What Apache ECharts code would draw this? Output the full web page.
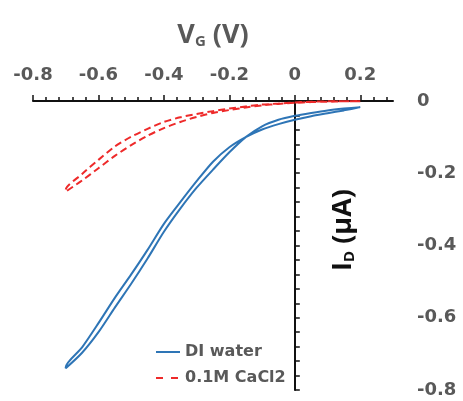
<!DOCTYPE html>
<html><head><meta charset="utf-8">
<script src="https://cdn.jsdelivr.net/npm/echarts@6/dist/echarts.min.js"></script>
<style>html,body{margin:0;padding:0;background:#fff}#c{width:463px;height:401px}</style>
</head><body><div id="c"></div>
<script>
// Gate voltage sweep points (V)
const sweepV = [0.2, 0.15, 0.1, 0.05, 0, -0.05, -0.1, -0.15, -0.2, -0.25, -0.3, -0.35, -0.4, -0.45, -0.5, -0.55, -0.6, -0.65, -0.7];
// Drain current (µA), DI water: forward sweep (0.2 -> -0.7) and return sweep, both listed at sweepV
const diForward = [-0.017, -0.026, -0.034, -0.042, -0.052, -0.064, -0.079, -0.100, -0.128, -0.168, -0.222, -0.280, -0.340, -0.412, -0.480, -0.545, -0.615, -0.682, -0.737];
const diReturn  = [-0.017, -0.021, -0.026, -0.033, -0.041, -0.052, -0.070, -0.100, -0.142, -0.190, -0.240, -0.298, -0.362, -0.436, -0.506, -0.572, -0.640, -0.697, -0.740];
// Drain current (µA), 0.1M CaCl2
const caForward = [-0.001, -0.001, -0.002, -0.003, -0.005, -0.008, -0.012, -0.018, -0.025, -0.033, -0.044, -0.058, -0.075, -0.096, -0.122, -0.152, -0.186, -0.220, -0.251];
const caReturn  = [0.000, -0.001, -0.001, -0.002, -0.004, -0.007, -0.010, -0.015, -0.021, -0.028, -0.036, -0.045, -0.058, -0.077, -0.099, -0.126, -0.163, -0.202, -0.246];
const seriesNames = ['DI water', '0.1M CaCl2'];
// Tick labels
const xTickLabels = [-0.8, -0.6, -0.4, -0.2, 0, 0.2];
const yTickLabels = [0, -0.2, -0.4, -0.6, -0.8];

function loop(fwd, ret) {
  const out = [];
  for (let i = 0; i < sweepV.length; i++) out.push([sweepV[i], fwd[i]]);
  for (let i = sweepV.length - 1; i >= 0; i--) out.push([sweepV[i], ret[i]]);
  return out;
}
function steps(a, b, s) {
  const r = [];
  const n = Math.round((b - a) / s);
  for (let i = 0; i <= n; i++) r.push(Math.round((a + i * s) * 1000) / 1000);
  return r;
}
const xMinorTicks = steps(-0.8, 0.28, 0.04);
const yMinorTicks = steps(-0.8, 0, 0.04);

const FONT = 'DejaVu Sans';
const GRAY = '#595959';
const chart = echarts.init(document.getElementById('c'), null, {renderer: 'canvas'});
chart.setOption({
  animation: false,
  backgroundColor: '#fff',
  grid: {left: 33, right: 70, top: 101, bottom: 11},
  legend: {
    orient: 'vertical', left: 150, top: 339,
    itemWidth: 24, itemHeight: 14, itemGap: 10, itemTextGap: 4,
    itemStyle: {color: 'transparent', borderColor: 'transparent', borderWidth: 0},
    textStyle: {fontFamily: FONT, fontWeight: 'bold', fontSize: 16, color: GRAY},
    data: [{name: seriesNames[0]}, {name: seriesNames[1], lineStyle: {type: [7, 8]}}]
  },
  xAxis: [{
    type: 'value', position: 'top', min: -0.8, max: 0.3,
    axisLine: {onZero: false, lineStyle: {color: '#111', width: 2}},
    axisTick: {show: true, length: 4, customValues: xMinorTicks, lineStyle: {color: '#111', width: 1.5}},
    axisLabel: {show: false}, splitLine: {show: false}
  }, {
    type: 'value', position: 'top', min: -0.8, max: 0.3,
    axisLine: {show: false, onZero: false},
    axisTick: {show: true, length: 6, customValues: xTickLabels, lineStyle: {color: '#111', width: 1.5}},
    axisLabel: {show: true, customValues: xTickLabels, margin: 17, fontFamily: FONT, fontWeight: 'bold', fontSize: 18, color: GRAY,
      formatter: v => String(Math.round(v * 10) / 10)},
    splitLine: {show: false}
  }],
  yAxis: [{
    type: 'value', position: 'left', min: -0.8, max: 0,
    axisLine: {onZero: true, lineStyle: {color: '#111', width: 2}},
    axisTick: {show: true, inside: true, length: 5, customValues: yMinorTicks, lineStyle: {color: '#111', width: 1.5}},
    axisLabel: {show: false}, splitLine: {show: false}
  }, {
    type: 'value', position: 'right', min: -0.8, max: 0,
    axisLine: {show: false, onZero: false}, axisTick: {show: false},
    axisLabel: {show: true, customValues: yTickLabels, margin: 24, fontFamily: FONT, fontWeight: 'bold', fontSize: 18, color: GRAY,
      formatter: v => String(Math.round(v * 10) / 10)},
    splitLine: {show: false}
  }],
  graphic: [{
    type: 'text', x: 213, y: 33,
    style: {
      text: '{m|V}{s|G}{m| (V)}', align: 'center', verticalAlign: 'middle',
      rich: {
        m: {fontFamily: 'Open Sans', fontWeight: 'bold', fontSize: 27, fill: GRAY, lineHeight: 32, verticalAlign: 'bottom'},
        s: {fontFamily: 'Open Sans', fontWeight: 'bold', fontSize: 15, fill: GRAY, lineHeight: 28, verticalAlign: 'bottom'}
      }
    }
  }, {
    type: 'text', x: 341, y: 230, rotation: Math.PI / 2,
    style: {
      text: '{m|I}{s|D}{m| (µA)}', align: 'center', verticalAlign: 'middle',
      rich: {
        m: {fontFamily: 'Open Sans', fontWeight: 'bold', fontSize: 27, fill: '#111', lineHeight: 32, verticalAlign: 'bottom'},
        s: {fontFamily: 'Open Sans', fontWeight: 'bold', fontSize: 15, fill: '#111', lineHeight: 28, verticalAlign: 'bottom'}
      }
    }
  }],
  series: [{
    name: seriesNames[0], type: 'line', xAxisIndex: 0, yAxisIndex: 0,
    data: loop(diForward, diReturn), smooth: 0.25, symbol: 'none',
    lineStyle: {color: '#2e75b6', width: 2}, itemStyle: {color: '#2e75b6'}
  }, {
    name: seriesNames[1], type: 'line', xAxisIndex: 0, yAxisIndex: 0,
    data: loop(caForward, caReturn), smooth: 0.25, symbol: 'none',
    lineStyle: {color: '#ee2a2a', width: 2, type: [7, 4]}, itemStyle: {color: '#ee2a2a'}
  }]
});
</script></body></html>
